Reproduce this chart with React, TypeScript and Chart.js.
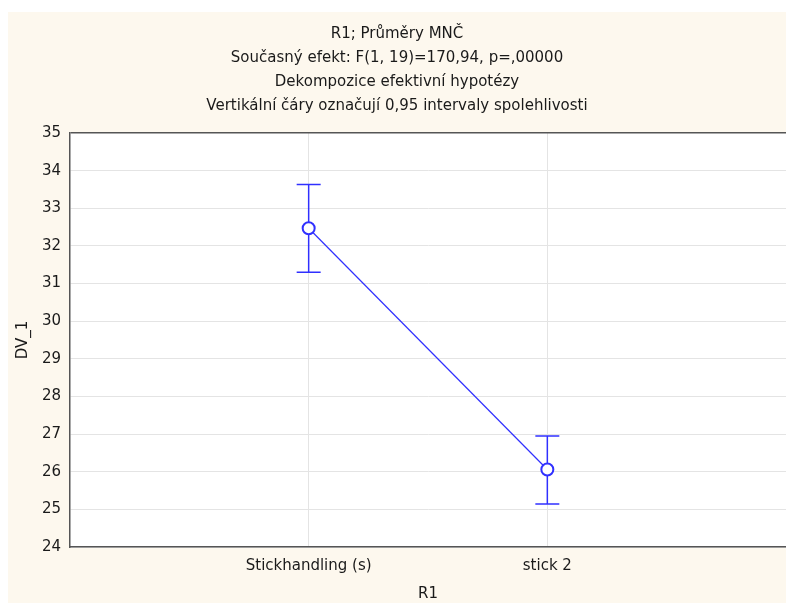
import React, { useEffect, useRef } from "react";
import { Chart, registerables } from "chart.js";

Chart.register(...registerables);

const titleLines = [
  "R1; Průměry MNČ",
  "Současný efekt: F(1, 19)=170,94, p=,00000",
  "Dekompozice efektivní hypotézy",
  "Vertikální čáry označují 0,95 intervaly spolehlivosti",
];
const categories = ["Stickhandling (s)", "stick 2"];
const means = [32.47, 26.06];
const lower = [31.3, 25.14];
const upper = [33.63, 26.95];
const yTicks = [24, 25, 26, 27, 28, 29, 30, 31, 32, 33, 34, 35];

const BLUE = "#3030ff";
const FONT = "'DejaVu Sans', 'Liberation Sans', Arial, sans-serif";

const bgPlugin = {
  id: "plotBg",
  beforeDraw(chart: any) {
    const { ctx, chartArea } = chart;
    ctx.save();
    ctx.fillStyle = "#fdf8ee";
    ctx.fillRect(0, 0, chart.width, chart.height);
    ctx.fillStyle = "#ffffff";
    ctx.fillRect(chartArea.left, chartArea.top, chartArea.right - chartArea.left, chartArea.bottom - chartArea.top);
    ctx.restore();
  },
};

const errorBarPlugin = {
  id: "errorBars",
  beforeDatasetsDraw(chart: any) {
    const { ctx } = chart;
    const xs = chart.scales.x;
    const ys = chart.scales.y;
    ctx.save();
    ctx.strokeStyle = BLUE;
    ctx.lineWidth = 1.5;
    for (let i = 0; i < means.length; i++) {
      const x = xs.getPixelForValue(i + 1);
      const yl = ys.getPixelForValue(lower[i]);
      const yu = ys.getPixelForValue(upper[i]);
      ctx.beginPath();
      ctx.moveTo(x, yl);
      ctx.lineTo(x, yu);
      ctx.moveTo(x - 12, yl);
      ctx.lineTo(x + 12, yl);
      ctx.moveTo(x - 12, yu);
      ctx.lineTo(x + 12, yu);
      ctx.stroke();
    }
    ctx.restore();
  },
};

export default function App() {
  const ref = useRef<HTMLCanvasElement | null>(null);
  useEffect(() => {
    if (!ref.current) return;
    const chart = new Chart(ref.current, {
      type: "scatter",
      data: {
        datasets: [
          {
            data: means.map((m, i) => ({ x: i + 1, y: m })),
            showLine: true,
            borderColor: BLUE,
            borderWidth: 1.2,
            pointRadius: 6,
            pointBorderWidth: 2,
            pointBorderColor: BLUE,
            pointBackgroundColor: "#ffffff",
          },
        ],
      },
      plugins: [bgPlugin, errorBarPlugin],
      options: {
        animation: false,
        responsive: true,
        maintainAspectRatio: false,
        layout: { padding: 0, autoPadding: false },
        plugins: {
          legend: { display: false },
          tooltip: { enabled: false },
          title: {
            display: true,
            text: titleLines,
            color: "#1a1a1a",
            font: { family: FONT, size: 15, weight: "normal", lineHeight: 1.6 },
            padding: { top: 10, bottom: 15 },
          },
        },
        scales: {
          x: {
            type: "linear",
            min: 0,
            max: 3,
            afterFit(scale: any) {
              scale.height = 56;
              scale.paddingLeft = 0;
              scale.paddingRight = 0;
            },
            afterBuildTicks(scale: any) {
              scale.ticks = [0, 1, 2, 3].map((v) => ({ value: v }));
            },
            ticks: {
              autoSkip: false,
              maxRotation: 0,
              padding: 10,
              color: "#1a1a1a",
              font: { family: FONT, size: 15 },
              callback: (v: any) => (v >= 1 && v <= categories.length ? categories[v - 1] : ""),
            },
            grid: {
              drawTicks: false,
              color: (c: any) => (c.tick && (c.tick.value === 0 || c.tick.value === 3) ? "rgba(0,0,0,0)" : "#e4e4e4"),
              lineWidth: 1,
            },
            border: { display: true, color: "#555555", width: 1.5 },
            title: {
              display: true,
              text: "R1",
              color: "#1a1a1a",
              font: { family: FONT, size: 15 },
              padding: { top: 0, bottom: 0 },
            },
          },
          y: {
            type: "linear",
            min: 24,
            max: 35,
            afterFit(scale: any) {
              scale.width = 62;
              scale.paddingTop = 0;
              scale.paddingBottom = 0;
            },
            afterBuildTicks(scale: any) {
              scale.ticks = yTicks.map((v) => ({ value: v }));
            },
            ticks: {
              padding: 9,
              color: "#1a1a1a",
              font: { family: FONT, size: 15 },
            },
            grid: {
              drawTicks: false,
              color: (c: any) => (c.tick && c.tick.value === 35 ? "#555555" : "#e4e4e4"),
              lineWidth: (c: any) => (c.tick && c.tick.value === 35 ? 1.5 : 1),
            },
            border: { display: true, color: "#555555", width: 1.5 },
            title: {
              display: true,
              text: "DV_1",
              color: "#1a1a1a",
              font: { family: FONT, size: 15 },
              padding: { top: 6, bottom: 0 },
            },
          },
        },
      },
    } as any);
    return () => chart.destroy();
  }, []);
  return (
    <div style={{ position: "fixed", left: 8, top: 12, width: 778, height: 591 }}>
      <canvas ref={ref} />
    </div>
  );
}
